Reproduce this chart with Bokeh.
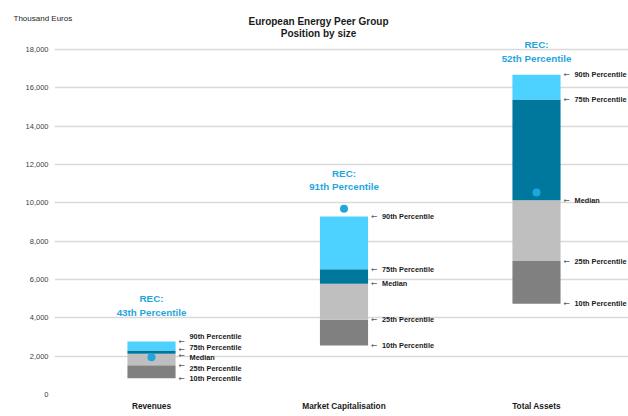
from bokeh.plotting import figure
from bokeh.layouts import column
from bokeh.models import Range1d, FixedTicker, Label, NumeralTickFormatter
from bokeh.core.properties import value
from bokeh.embed import file_html
from bokeh.resources import INLINE

# ---------------- data ----------------
categories = ["Revenues", "Market Capitalisation", "Total Assets"]
p10 = [850, 2560, 4730]
p25 = [1530, 3900, 6960]
median = [2120, 5780, 10140]
p75 = [2300, 6540, 15390]
p90 = [2765, 9290, 16680]
rec_value = [1950, 9690, 10540]
rec_rank = [43, 91, 52]
percentile_names = ["10th Percentile", "25th Percentile", "Median", "75th Percentile", "90th Percentile"]
y_ticks = [0, 2000, 4000, 6000, 8000, 10000, 12000, 14000, 16000, 18000]
title_lines = ["European Energy Peer Group", "Position by size"]
unit_label = "Thousand Euros"

# ---------------- layout ----------------
W = 628
TOP_H = 39
H = 416 - TOP_H
LEFT, BOTTOM = 54, 22
frame_w = W - LEFT
frame_h = H - BOTTOM
px_per_cat = 192.5
px_per_unit = 38.333 / 2000.0
x0 = -97.0 / px_per_cat
x_end = x0 + frame_w / px_per_cat
y_end = frame_h / px_per_unit
bar_w = 0.25
half_bar_px = bar_w * px_per_cat / 2

FONT = value("Liberation Sans")
REC_COLOR = "#1FA6DE"
seg_colors = ["#808080", "#BFBFBF", "#00789E", "#4DD2FF"]

# ---------------- header (titles) ----------------
top = figure(width=W, height=TOP_H, output_backend="svg", toolbar_location=None,
             x_range=Range1d(0, W), y_range=Range1d(0, TOP_H),
             x_axis_type=None, y_axis_type=None,
             min_border_left=0, min_border_right=0, min_border_top=0, min_border_bottom=0)
top.frame_align = False
top.outline_line_color = None
top.xgrid.grid_line_color = None
top.ygrid.grid_line_color = None
top.border_fill_color = "white"

top.add_layout(Label(x=13, y=TOP_H - 18, text=unit_label, text_align="left",
                     text_baseline="middle", text_font="Liberation Sans",
                     text_font_size="8px", text_color="#262626"))
for line, py in zip(title_lines, [21, 32.5]):
    top.add_layout(Label(x=318, y=TOP_H - py, text=line, text_align="center",
                         text_baseline="middle", text_font="Liberation Sans",
                         text_font_style="bold", text_font_size="10px",
                         text_color="#1a1a1a"))

# ---------------- main chart ----------------
p = figure(width=W, height=H, output_backend="svg", toolbar_location=None,
           x_range=Range1d(x0, x_end), y_range=Range1d(0, y_end),
           min_border_left=LEFT, min_border_right=0, min_border_top=0,
           min_border_bottom=BOTTOM)
p.frame_align = False
p.outline_line_color = None
p.background_fill_color = "white"
p.border_fill_color = "white"

p.yaxis.ticker = FixedTicker(ticks=y_ticks)
p.yaxis.formatter = NumeralTickFormatter(format="0,0")
p.yaxis.axis_line_color = None
p.yaxis.major_tick_line_color = None
p.yaxis.minor_tick_line_color = None
p.yaxis.major_tick_out = 0
p.yaxis.major_tick_in = 0
p.yaxis.axis_label_standoff = 0
p.yaxis.major_label_standoff = 6
p.yaxis.major_label_text_font = "Liberation Sans"
p.yaxis.major_label_text_font_size = "7.5px"
p.yaxis.major_label_text_color = "#404040"

xs = list(range(len(categories)))
p.xaxis.ticker = FixedTicker(ticks=xs)
p.xaxis.major_label_overrides = {i: c for i, c in enumerate(categories)}
p.xaxis.axis_line_color = None
p.xaxis.major_tick_line_color = None
p.xaxis.minor_tick_line_color = None
p.xaxis.major_tick_out = 0
p.xaxis.major_tick_in = 0
p.xaxis.axis_label_standoff = 0
p.xaxis.major_label_standoff = 6
p.xaxis.major_label_text_font = "Liberation Sans"
p.xaxis.major_label_text_font_style = "bold"
p.xaxis.major_label_text_font_size = "8.3px"
p.xaxis.major_label_text_color = "#1a1a1a"

p.xgrid.grid_line_color = None
p.ygrid.ticker = FixedTicker(ticks=y_ticks)
p.ygrid.grid_line_color = "#D9D9D9"
p.ygrid.grid_line_width = 1.5

levels = [p10, p25, median, p75, p90]
for k in range(4):
    p.vbar(x=xs, width=bar_w, bottom=levels[k], top=levels[k + 1],
           fill_color=seg_colors[k], line_color=None)

p.scatter(x=xs, y=rec_value, size=8, fill_color=REC_COLOR, line_color=None)

clamp = y_end - 24 / px_per_unit
rec_y = [min(v + 24 / px_per_unit, clamp) for v in p90]
p.text(x=xs, y=rec_y, text=[f"REC:\n{r}th Percentile" for r in rec_rank],
       text_align="center", text_baseline="bottom", text_line_height=1.25,
       text_font=FONT, text_font_style="bold", text_font_size="9.8px",
       text_color=REC_COLOR)


def spread(vals, gap):
    ys = list(vals)
    for _ in range(300):
        for k in range(len(ys) - 1):
            d = ys[k + 1] - ys[k]
            if d < gap:
                s = (gap - d) / 2
                ys[k] -= s
                ys[k + 1] += s
    return ys


ax, ay, tx, ty, tt = [], [], [], [], []
for i in xs:
    vals = [lv[i] for lv in levels]
    arr = spread(vals, 6 / px_per_unit)
    lab = spread(vals, 10.5 / px_per_unit)
    for k in range(5):
        ax.append(i); ay.append(arr[k])
        tx.append(i); ty.append(lab[k]); tt.append(percentile_names[k])

p.text(x=ax, y=ay, text=["\u2190"] * len(ax), x_offset=half_bar_px + 3,
       text_align="left", text_baseline="middle", text_font=value("DejaVu Sans"),
       text_font_size="7.5px", text_color="#595959")
p.text(x=tx, y=ty, text=tt, x_offset=half_bar_px + 14,
       text_align="left", text_baseline="middle", text_font=FONT,
       text_font_style="bold", text_font_size="7.3px", text_color="#1a1a1a")

layout = column(top, p, spacing=0)
open("out.html", "w").write(file_html(layout, INLINE))
